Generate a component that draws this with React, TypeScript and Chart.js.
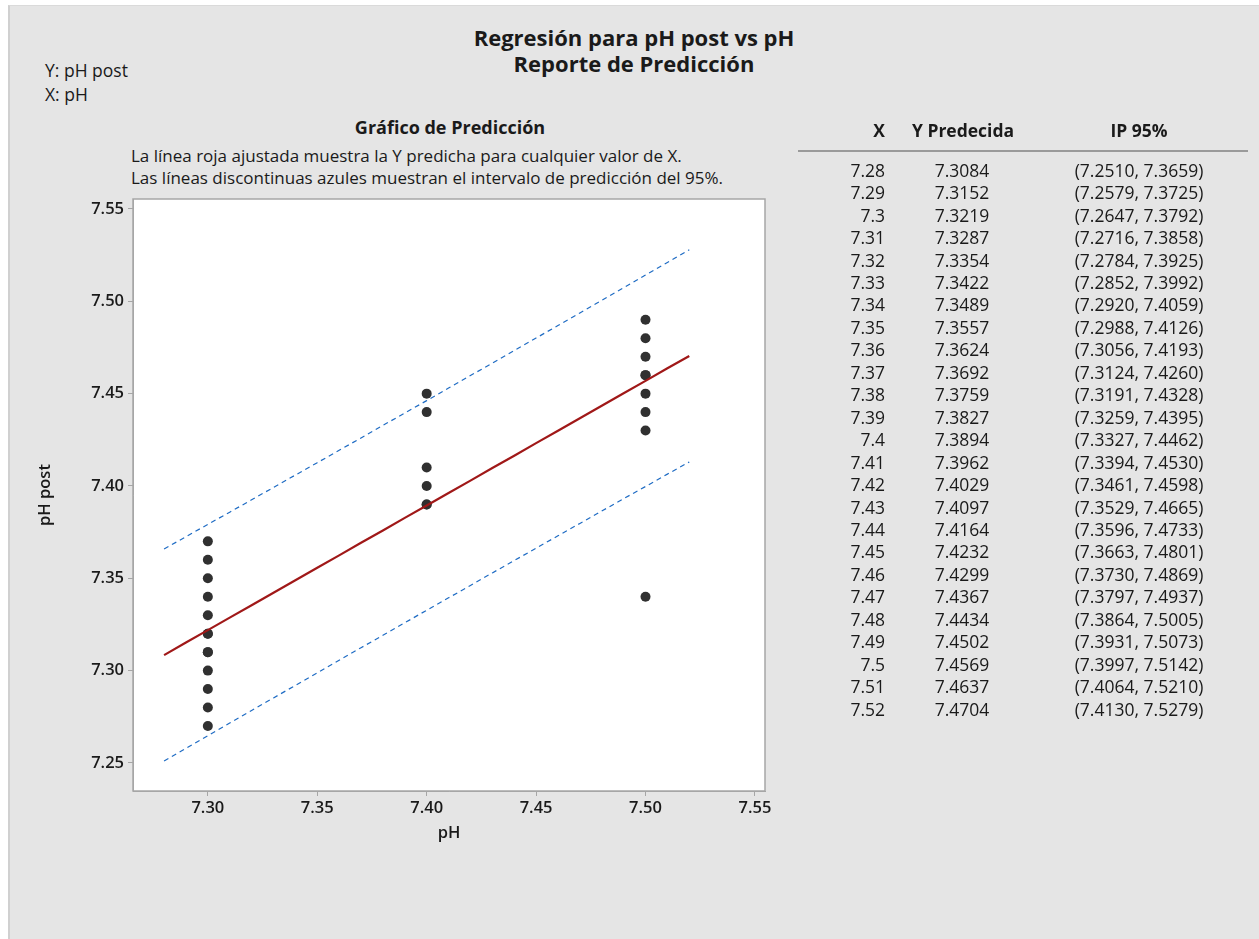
import React, { useEffect, useRef } from "react";
import { Chart, registerables } from "chart.js";

Chart.register(...registerables);

// ---------- data ----------
const predX = [7.28, 7.29, 7.3, 7.31, 7.32, 7.33, 7.34, 7.35, 7.36, 7.37, 7.38, 7.39, 7.4, 7.41, 7.42, 7.43, 7.44, 7.45, 7.46, 7.47, 7.48, 7.49, 7.5, 7.51, 7.52];
const predXLabels = ["7.28", "7.29", "7.3", "7.31", "7.32", "7.33", "7.34", "7.35", "7.36", "7.37", "7.38", "7.39", "7.4", "7.41", "7.42", "7.43", "7.44", "7.45", "7.46", "7.47", "7.48", "7.49", "7.5", "7.51", "7.52"];
const predY = [7.3084, 7.3152, 7.3219, 7.3287, 7.3354, 7.3422, 7.3489, 7.3557, 7.3624, 7.3692, 7.3759, 7.3827, 7.3894, 7.3962, 7.4029, 7.4097, 7.4164, 7.4232, 7.4299, 7.4367, 7.4434, 7.4502, 7.4569, 7.4637, 7.4704];
const piLow = [7.251, 7.2579, 7.2647, 7.2716, 7.2784, 7.2852, 7.292, 7.2988, 7.3056, 7.3124, 7.3191, 7.3259, 7.3327, 7.3394, 7.3461, 7.3529, 7.3596, 7.3663, 7.373, 7.3797, 7.3864, 7.3931, 7.3997, 7.4064, 7.413];
const piHigh = [7.3659, 7.3725, 7.3792, 7.3858, 7.3925, 7.3992, 7.4059, 7.4126, 7.4193, 7.426, 7.4328, 7.4395, 7.4462, 7.453, 7.4598, 7.4665, 7.4733, 7.4801, 7.4869, 7.4937, 7.5005, 7.5073, 7.5142, 7.521, 7.5279];

const obsX = [7.3, 7.3, 7.3, 7.3, 7.3, 7.3, 7.3, 7.3, 7.3, 7.3, 7.3, 7.3, 7.3, 7.4, 7.4, 7.4, 7.4, 7.4, 7.4, 7.5, 7.5, 7.5, 7.5, 7.5, 7.5, 7.5, 7.5, 7.5];
const obsY = [7.27, 7.28, 7.29, 7.3, 7.31, 7.31, 7.32, 7.32, 7.33, 7.34, 7.35, 7.36, 7.37, 7.39, 7.39, 7.4, 7.41, 7.44, 7.45, 7.34, 7.43, 7.44, 7.45, 7.46, 7.46, 7.47, 7.48, 7.49];

const xTicks = [7.3, 7.35, 7.4, 7.45, 7.5, 7.55];
const yTicks = [7.25, 7.3, 7.35, 7.4, 7.45, 7.5, 7.55];

const FONT = "'Open Sans', 'Noto Sans', sans-serif";
const TEXT = "#1a1a1a";

const plotFrame = {
  id: "plotFrame",
  beforeDraw(chart: any) {
    const { ctx, chartArea: a } = chart;
    ctx.save();
    ctx.fillStyle = "#ffffff";
    ctx.fillRect(a.left, a.top, a.right - a.left, a.bottom - a.top);
    ctx.restore();
  },
  afterDraw(chart: any) {
    const { ctx, chartArea: a } = chart;
    ctx.save();
    ctx.strokeStyle = "#a6a6a6";
    ctx.lineWidth = 1.5;
    ctx.strokeRect(a.left, a.top, a.right - a.left, a.bottom - a.top);
    ctx.restore();
  },
};

function PredChart() {
  const ref = useRef<HTMLCanvasElement>(null);
  useEffect(() => {
    const line = (vals: number[]) => predX.map((x, i) => ({ x, y: vals[i] }));
    const chart = new Chart(ref.current!, {
      type: "scatter",
      data: {
        datasets: [
          {
            type: "line",
            data: line(piHigh),
            borderColor: "#1f6cc4",
            borderWidth: 1.2,
            borderDash: [5, 4],
            pointRadius: 0,
            fill: false,
          },
          {
            type: "line",
            data: line(piLow),
            borderColor: "#1f6cc4",
            borderWidth: 1.2,
            borderDash: [5, 4],
            pointRadius: 0,
            fill: false,
          },
          {
            type: "line",
            data: line(predY),
            borderColor: "#a01818",
            borderWidth: 2.2,
            pointRadius: 0,
            fill: false,
          },
          {
            data: obsX.map((x, i) => ({ x, y: obsY[i] })),
            backgroundColor: "#303030",
            borderColor: "#303030",
            pointRadius: 5,
            borderWidth: 0,
          },
        ],
      },
      options: {
        responsive: false,
        animation: false,
        layout: { padding: { left: 0, top: 199, right: 35, bottom: 29 } },
        plugins: { legend: { display: false }, tooltip: { enabled: false }, title: { display: false } },
        scales: {
          x: {
            type: "linear",
            min: 7.2658,
            max: 7.5546,
            afterFit: (s: any) => { s.height = 60; },
            afterBuildTicks: (s: any) => { s.ticks = xTicks.map((v) => ({ value: v })); },
            grid: { drawOnChartArea: false, drawTicks: true, tickLength: 5, color: "#a6a6a6" },
            border: { display: true, color: "#a6a6a6" },
            ticks: {
              padding: 2,
              color: TEXT,
              font: { family: FONT, size: 16.5, weight: 600 },
              callback: (v: any) => Number(v).toFixed(2),
            },
            title: {
              display: true,
              text: "pH",
              color: TEXT,
              font: { family: FONT, size: 16.5, weight: 600 },
              padding: { top: 0, bottom: 8 },
            },
          },
          y: {
            type: "linear",
            min: 7.2348,
            max: 7.5554,
            afterFit: (s: any) => { s.width = 133; },
            afterBuildTicks: (s: any) => { s.ticks = yTicks.map((v) => ({ value: v })); },
            grid: { drawOnChartArea: false, drawTicks: true, tickLength: 5, color: "#a6a6a6" },
            border: { display: true, color: "#a6a6a6" },
            ticks: {
              padding: 4,
              color: TEXT,
              font: { family: FONT, size: 16.5, weight: 600 },
              callback: (v: any) => Number(v).toFixed(2),
            },
            title: {
              display: true,
              text: "pH post",
              color: TEXT,
              font: { family: FONT, size: 16.5, weight: 600 },
              padding: { top: 35, bottom: 0 },
            },
          },
        },
      },
      plugins: [plotFrame],
    } as any);
    return () => chart.destroy();
  }, []);
  return (
    <canvas
      ref={ref}
      width={800}
      height={880}
      style={{ position: "absolute", left: 0, top: 0, width: 800, height: 880 }}
    />
  );
}

function T({ x, y, align = "left", size = 15, weight = 400, children }: any) {
  const lh = size * 1.4;
  let left = x;
  let width: any = "auto";
  if (align === "center") { left = x - 300; width = 600; }
  if (align === "right") { left = x - 300; width = 300; }
  return (
    <div
      style={{
        position: "absolute",
        left,
        top: y - lh / 2,
        width,
        textAlign: align,
        fontFamily: FONT,
        fontSize: size,
        fontWeight: weight,
        lineHeight: lh + "px",
        color: TEXT,
        whiteSpace: "nowrap",
      }}
    >
      {children}
    </div>
  );
}

export default function App() {
  const rowY0 = 170;
  const rowStep = 22.45;
  return (
    <div style={{ position: "absolute", left: 0, top: 0, width: 1259, height: 939, overflow: "hidden", background: "#ffffff" }}>
      <div
        style={{
          position: "absolute",
          left: 8,
          top: 5,
          width: 1251,
          height: 934,
          background: "#e5e5e5",
          borderLeft: "2px solid #d0d0d0",
          borderTop: "1px solid #dadada",
          boxSizing: "border-box",
        }}
      />
      <T x={634} y={37} align="center" size={22} weight={700}>Regresión para pH post vs pH</T>
      <T x={634} y={63} align="center" size={22} weight={700}>Reporte de Predicción</T>
      <T x={45} y={70} size={17.5}>Y: pH post</T>
      <T x={45} y={94} size={17.5}>X: pH</T>
      <T x={450} y={128} align="center" size={18} weight={700}>Gráfico de Predicción</T>
      <T x={131} y={156} size={17}>La línea roja ajustada muestra la Y predicha para cualquier valor de X.</T>
      <T x={131} y={178} size={17}>Las líneas discontinuas azules muestran el intervalo de predicción del 95%.</T>
      <PredChart />
      <T x={885} y={130} align="right" size={17.5} weight={700}>X</T>
      <T x={963} y={130} align="center" size={17.5} weight={700}>Y Predecida</T>
      <T x={1139} y={130} align="center" size={17.5} weight={700}>IP 95%</T>
      <div style={{ position: "absolute", left: 798, top: 150, width: 450, height: 2, background: "#9a9a9a" }} />
      {predXLabels.map((lab, i) => (
        <React.Fragment key={lab}>
          <T x={885} y={rowY0 + i * rowStep} align="right" size={17.5}>{lab}</T>
          <T x={962} y={rowY0 + i * rowStep} align="center" size={17.5}>{predY[i].toFixed(4)}</T>
          <T x={1139} y={rowY0 + i * rowStep} align="center" size={17.5}>
            ({piLow[i].toFixed(4)}, {piHigh[i].toFixed(4)})
          </T>
        </React.Fragment>
      ))}
    </div>
  );
}
